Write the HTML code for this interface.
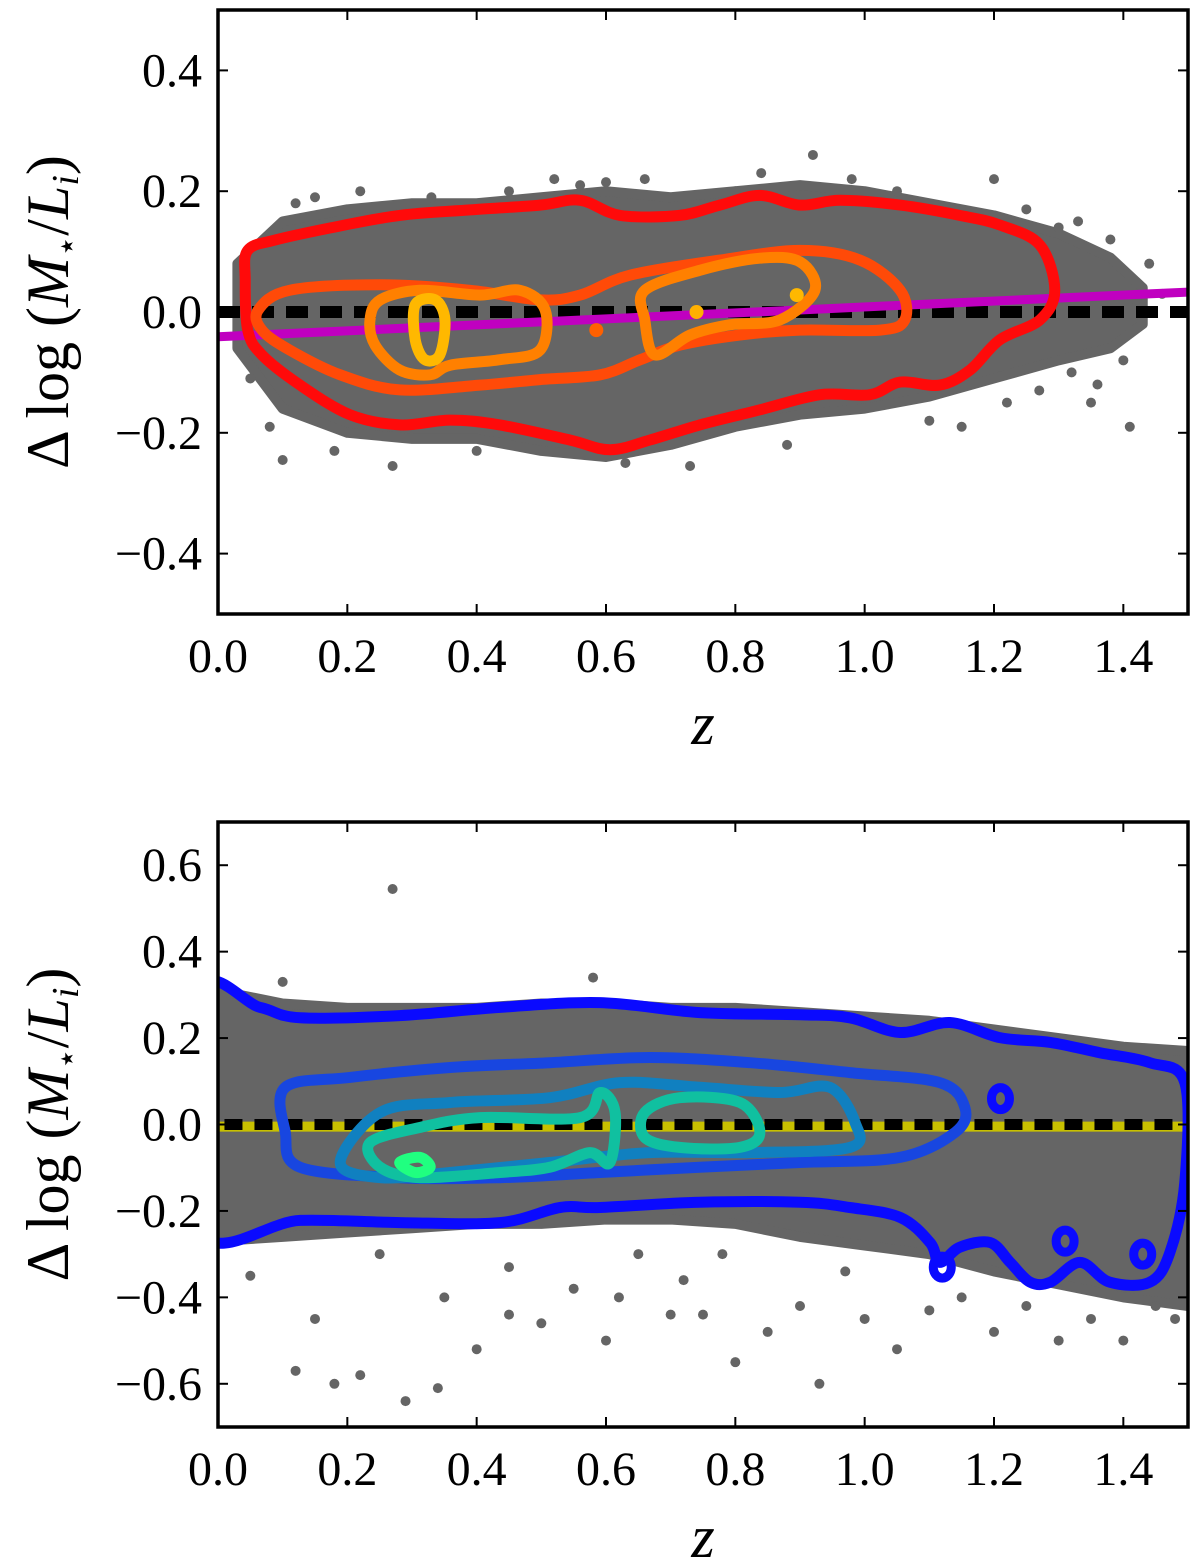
<!DOCTYPE html>
<html><head><meta charset="utf-8"><style>
html,body{margin:0;padding:0;background:#fff;width:1200px;height:1563px;overflow:hidden}
text{font-family:"Liberation Serif",serif}
</style></head><body>
<svg id="svg" width="1200" height="1563" viewBox="0 0 1200 1563" xmlns="http://www.w3.org/2000/svg"></svg>
<script>
// ---------- data: top panel ----------
const topBandZ=[0.03,0.1,0.2,0.3,0.4,0.5,0.6,0.7,0.8,0.9,1.0,1.1,1.2,1.3,1.38,1.43];
const topBandHi=[0.08,0.15,0.17,0.18,0.18,0.19,0.2,0.19,0.2,0.21,0.2,0.18,0.16,0.13,0.09,0.04];
const topBandLo=[-0.06,-0.16,-0.2,-0.21,-0.21,-0.23,-0.24,-0.22,-0.19,-0.17,-0.16,-0.14,-0.11,-0.08,-0.06,-0.02];
const topOutZ=[0.1,0.27,0.52,0.73,0.92,1.2,1.15,1.41,1.42,0.15,0.6,0.8,1.3,1.35,0.05,0.12,0.22,0.33,0.45,0.56,0.66,0.84,0.98,1.05,1.25,1.33,1.38,1.44,1.46,1.32,1.27,1.22,1.36,0.08,0.18,0.4,0.63,0.88,1.1,1.4];
const topOutY=[-0.245,-0.255,0.22,-0.255,0.26,0.22,-0.19,-0.19,0.02,0.19,0.215,0.2,0.14,-0.15,-0.11,0.18,0.2,0.19,0.2,0.21,0.22,0.23,0.22,0.2,0.17,0.15,0.12,0.08,0.03,-0.1,-0.13,-0.15,-0.12,-0.19,-0.23,-0.23,-0.25,-0.22,-0.18,-0.08];
const topC1Z=[.046,.088,.173,.281,.390,.498,.560,.622,.714,.776,.838,.900,.962,1.055,1.147,1.209,1.271,1.294,1.271,1.209,1.163,1.116,1.055,1.008,.931,.838,.745,.668,.606,.544,.436,.359,.281,.204,.127,.068,.046,.042];
const topC1Y=[.102,.119,.139,.160,.169,.177,.185,.160,.160,.177,.193,.177,.185,.177,.160,.144,.111,.036,-.013,-.046,-.096,-.121,-.116,-.137,-.137,-.162,-.187,-.212,-.228,-.212,-.187,-.179,-.187,-.170,-.121,-.071,-.030,.053];
const topC2Z=[.062,.111,.251,.390,.498,.560,.637,.776,.900,.993,1.055,1.062,1.024,.900,.807,.714,.653,.591,.498,.405,.281,.189,.111,.068];
const topC2Y=[.003,.036,.045,.036,.020,.028,.061,.086,.102,.086,.036,-.013,-.030,-.030,-.038,-.055,-.079,-.104,-.112,-.121,-.129,-.104,-.063,-.030];
const topC3aZ=[.251,.312,.405,.467,.506,.498,.436,.359,.328,.281,.243,.235];
const topC3aY=[.020,.036,.028,.036,.003,-.063,-.079,-.088,-.104,-.096,-.055,-.013];
const topC3bZ=[.660,.745,.838,.900,.923,.869,.792,.730,.676,.660];
const topC3bY=[.036,.069,.089,.083,.036,-.013,-.021,-.038,-.071,-.013];
const topC4Z=[.305,.336,.351,.343,.320,.305];
const topC4Y=[.012,.020,-.013,-.071,-.079,-.046];
const topFit=[-0.041,0.033];
// ---------- data: bottom panel ----------
const botBandZ=[0.0,0.1,0.2,0.3,0.4,0.5,0.6,0.7,0.8,0.9,1.0,1.1,1.2,1.3,1.4,1.5];
const botBandHi=[0.31,0.28,0.27,0.27,0.27,0.28,0.28,0.27,0.27,0.26,0.25,0.24,0.22,0.2,0.18,0.17];
const botBandLo=[-0.27,-0.26,-0.25,-0.24,-0.23,-0.23,-0.22,-0.22,-0.23,-0.26,-0.28,-0.3,-0.34,-0.37,-0.4,-0.42];
const botOutZ=[0.27,0.12,0.18,0.22,0.29,0.34,0.4,0.45,0.5,0.55,0.6,0.62,0.7,0.75,0.8,0.85,0.93,0.9,1.0,1.05,1.1,1.2,1.3,1.35,1.45,1.48,0.05,0.15,0.25,0.35,0.45,0.65,0.72,0.78,0.97,1.15,1.25,1.4,0.58,0.1];
const botOutY=[0.545,-0.57,-0.6,-0.58,-0.64,-0.61,-0.52,-0.44,-0.46,-0.38,-0.5,-0.4,-0.44,-0.44,-0.55,-0.48,-0.6,-0.42,-0.45,-0.52,-0.43,-0.48,-0.5,-0.45,-0.42,-0.45,-0.35,-0.45,-0.3,-0.4,-0.33,-0.3,-0.36,-0.3,-0.34,-0.4,-0.42,-0.5,0.34,0.33];
const botC1Z=[-.03,.065,.127,.281,.436,.591,.745,.900,.977,1.055,1.132,1.209,1.287,1.364,1.441,1.495,1.495,1.472,1.441,1.379,1.333,1.287,1.256,1.225,1.194,1.147,1.116,1.101,1.055,.977,.900,.745,.591,.529,.436,.281,.127,-.03];
const botC1Y=[.30,.271,.247,.252,.271,.282,.259,.254,.247,.213,.236,.201,.190,.166,.143,.097,-.134,-.296,-.365,-.365,-.319,-.365,-.365,-.319,-.273,-.284,-.319,-.273,-.215,-.192,-.180,-.180,-.192,-.192,-.227,-.227,-.222,-.24];
const botC2Z=[.104,.204,.359,.513,.668,.823,.977,1.116,1.155,1.140,1.055,.900,.745,.591,.436,.281,.127,.104];
const botC2Y=[.086,.109,.132,.143,.155,.143,.120,.097,.039,-.018,-.076,-.088,-.099,-.111,-.123,-.123,-.099,-.018];
const botC3Z=[.189,.251,.359,.513,.622,.745,.869,.946,.985,.977,.823,.668,.513,.359,.251];
const botC3Y=[-.088,.028,.051,.062,.097,.086,.074,.086,.005,-.053,-.065,-.065,-.088,-.111,-.123];
const botC4aZ=[.235,.312,.405,.560,.591,.614,.606,.575,.513,.436,.312,.251];
const botC4aY=[-.042,-.007,.016,.016,.074,.028,-.088,-.065,-.099,-.111,-.123,-.099];
const botC4bZ=[.660,.714,.807,.838,.807,.714,.660];
const botC4bY=[.028,.062,.051,-.018,-.053,-.053,-.030];
const botC5Z=[.281,.312,.328,.305];
const botC5Y=[-.088,-.076,-.099,-.111];
const botIslZ=[1.21,1.31,1.43,1.12];
const botIslY=[.06,-.27,-.30,-.33];
const xTicks=[0.0,0.2,0.4,0.6,0.8,1.0,1.2,1.4];
const topYTicks=[0.4,0.2,0.0,-0.2,-0.4];
const botYTicks=[0.6,0.4,0.2,0.0,-0.2,-0.4,-0.6];

const NS="http://www.w3.org/2000/svg";
const svg=document.getElementById('svg');
function mk(tag,attrs,parent){const e=document.createElementNS(NS,tag);for(const k in attrs)e.setAttribute(k,attrs[k]);(parent||svg).appendChild(e);return e;}
const X0=218,X1=1188;
function xs(z){return X0+(z-0)/(1.5)*(X1-X0);}
function makeY(top,bot,ymin,ymax){return v=>bot-(v-ymin)/(ymax-ymin)*(bot-top);}
function smooth(pts){let d='';const n=pts.length;for(let i=0;i<n;i++){const p0=pts[(i-1+n)%n],p1=pts[i],p2=pts[(i+1)%n],p3=pts[(i+2)%n];if(i===0)d+='M'+p1[0].toFixed(1)+','+p1[1].toFixed(1);const c1=[p1[0]+(p2[0]-p0[0])/6,p1[1]+(p2[1]-p0[1])/6],c2=[p2[0]-(p3[0]-p1[0])/6,p2[1]-(p3[1]-p1[1])/6];d+='C'+c1[0].toFixed(1)+','+c1[1].toFixed(1)+' '+c2[0].toFixed(1)+','+c2[1].toFixed(1)+' '+p2[0].toFixed(1)+','+p2[1].toFixed(1);}return d+'Z';}

function panel(cfg){
  const g=mk('g',{});
  
  
  const ys=makeY(cfg.top,cfg.bot,cfg.ymin,cfg.ymax);
  const clip=mk('clipPath',{id:cfg.name+'-clip'},g);
  mk('rect',{x:X0,y:cfg.top,width:X1-X0,height:cfg.bot-cfg.top},clip);
  const pg=mk('g',{'clip-path':'url(#'+cfg.name+'-clip)'},g);
  const pts=[];cfg.bz.forEach((z,i)=>pts.push(xs(z)+','+ys(cfg.bhi[i])));
  for(let i=cfg.bz.length-1;i>=0;i--)pts.push(xs(cfg.bz[i])+','+ys(cfg.blo[i]));
  const band=mk('polygon',{points:pts.join(' '),fill:'#656565',stroke:'#656565','stroke-width':10,'stroke-linejoin':'round'},pg);
  
  
  cfg.oz.forEach((z,i)=>{const c=mk('circle',{cx:xs(z),cy:ys(cfg.oy[i]),r:5,fill:'#656565'},pg);
    
    });
  cfg.before&&cfg.before(pg,ys);
  cfg.contours.forEach(c=>{const p=mk('path',{d:smooth(c.z.map((z,i)=>[xs(z),ys(c.y[i])])),fill:'none',stroke:c.col,'stroke-width':c.w||11,'stroke-linejoin':'round'},pg);
    
    });
  cfg.after&&cfg.after(pg,ys);
  const fr=mk('rect',{x:X0,y:cfg.top,width:X1-X0,height:cfg.bot-cfg.top,fill:'none',stroke:'#000','stroke-width':3.5},g);
  
  
  xTicks.forEach(t=>{const x=xs(t);
    mk('line',{x1:x,x2:x,y1:cfg.bot,y2:cfg.bot-10,stroke:'#000','stroke-width':2},g);
    mk('line',{x1:x,x2:x,y1:cfg.top,y2:cfg.top+10,stroke:'#000','stroke-width':2},g);
    const tx=mk('text',{x:x,y:cfg.bot+58,'font-size':48,'text-anchor':'middle'},g);tx.textContent=t.toFixed(1);
    
    });
  cfg.yt.forEach(t=>{const y=ys(t);
    mk('line',{x1:X0,x2:X0+10,y1:y,y2:y,stroke:'#000','stroke-width':2},g);
    mk('line',{x1:X1,x2:X1-10,y1:y,y2:y,stroke:'#000','stroke-width':2},g);
    const tx=mk('text',{x:202,y:y+16,'font-size':48,'text-anchor':'end'},g);tx.textContent=(t<0?'\u2212':'')+Math.abs(t).toFixed(1);
    
    });
  const xl=mk('text',{x:703,y:cfg.bot+130,'font-size':60,'font-style':'italic','text-anchor':'middle'},g);xl.textContent='z';
  
  
  const cy=(cfg.top+cfg.bot)/2;
  const yl=mk('text',{x:0,y:0,'font-size':60,'text-anchor':'middle',transform:'translate(68,'+cy+') rotate(-90)'},g);
  yl.innerHTML='\u0394 log (<tspan font-style="italic">M</tspan><tspan font-size="34" dy="10">\u22c6</tspan><tspan dy="-10">/</tspan><tspan font-style="italic">L</tspan><tspan font-size="38" dy="10" font-style="italic">i</tspan><tspan dy="-10">)</tspan>';
  
  
}

panel({name:'top-panel',top:10,bot:614,ymin:-0.5,ymax:0.5,bz:topBandZ,bhi:topBandHi,blo:topBandLo,oz:topOutZ,oy:topOutY,yt:topYTicks,
  before:(pg,ys)=>{
    const d=mk('line',{x1:xs(0),x2:xs(1.5),y1:ys(0),y2:ys(0),stroke:'#000','stroke-width':12,'stroke-dasharray':'22 12'},pg);
    
    
    const f=mk('line',{x1:xs(0),x2:xs(1.5),y1:ys(topFit[0]),y2:ys(topFit[1]),stroke:'#c000c0','stroke-width':9},pg);
    
    },
  contours:[{z:topC1Z,y:topC1Y,col:'#ff0a0a'},{z:topC2Z,y:topC2Y,col:'#ff4a08'},{z:topC3aZ,y:topC3aY,col:'#ff8000'},{z:topC3bZ,y:topC3bY,col:'#ff8000'},{z:topC4Z,y:topC4Y,col:'#ffb800'}],
  after:(pg,ys)=>{[[0.585,-0.03,'#ff6000'],[0.74,0.0,'#ffb000'],[0.895,0.028,'#ffb800']].forEach(b=>{const c=mk('circle',{cx:xs(b[0]),cy:ys(b[1]),r:7,fill:b[2]},pg);
    
    });}
});
panel({name:'bottom-panel',top:822,bot:1427,ymin:-0.7,ymax:0.7,bz:botBandZ,bhi:botBandHi,blo:botBandLo,oz:botOutZ,oy:botOutY,yt:botYTicks,
  before:(pg,ys)=>{
    const y=mk('line',{x1:xs(0),x2:xs(1.5),y1:ys(-0.005),y2:ys(-0.005),stroke:'#c8c000','stroke-width':10},pg);
    
    
    const d=mk('line',{x1:xs(0.01),x2:xs(1.5),y1:ys(0.0),y2:ys(0.0),stroke:'#000','stroke-width':11,'stroke-dasharray':'18 12'},pg);
    
    },
  contours:[{z:botC1Z,y:botC1Y,col:'#0a0aff'},{z:botC2Z,y:botC2Y,col:'#1846e0'},{z:botC3Z,y:botC3Y,col:'#1080c0'},{z:botC4aZ,y:botC4aY,col:'#10c0a0'},{z:botC4bZ,y:botC4bY,col:'#10c0a0'},{z:botC5Z,y:botC5Y,col:'#20ff80'}],
  after:(pg,ys)=>{botIslZ.forEach((z,i)=>{const c=mk('ellipse',{cx:xs(z),cy:ys(botIslY[i]),rx:9,ry:11,fill:'none',stroke:'#0a0aff','stroke-width':9},pg);
    
    });}
});
</script>
</body></html>
